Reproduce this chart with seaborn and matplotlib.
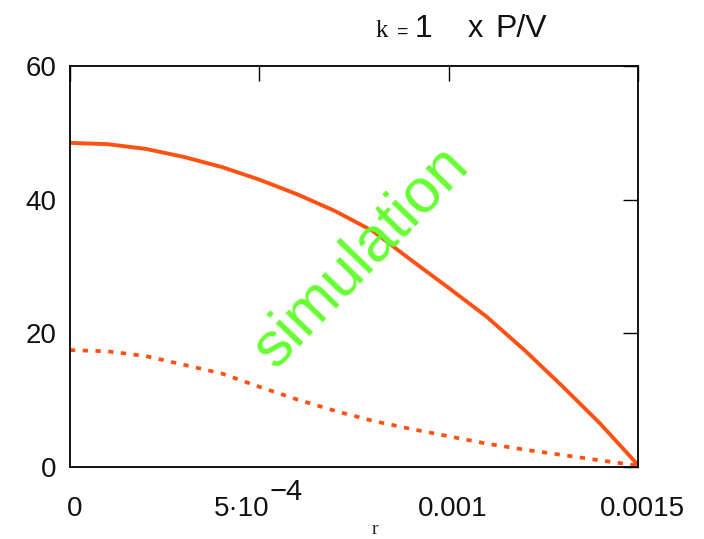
import matplotlib
matplotlib.use("Agg")
import matplotlib.pyplot as plt
import matplotlib.transforms as mtransforms
import seaborn as sns
import pandas as pd

# ---- data ----
r = [0.0, 1e-4, 2e-4, 3e-4, 4e-4, 5e-4, 6e-4, 7e-4, 8e-4, 9e-4,
     1.0e-3, 1.1e-3, 1.2e-3, 1.3e-3, 1.4e-3, 1.5e-3]
solid_vals = [48.5, 48.3, 47.6, 46.4, 44.9, 43.0, 40.8, 38.3, 35.3, 31.0,
              26.8, 22.5, 17.5, 12.1, 6.5, 0.3]
dotted_vals = [17.5, 17.3, 16.6, 15.3, 14.0, 12.0, 10.1, 8.4, 6.9, 5.7,
               4.6, 3.5, 2.6, 1.8, 1.0, 0.2]
x_ticks = [0.0, 5e-4, 1e-3, 1.5e-3]
x_ticklabels = ["0", "5\u00b710", "0.001", "0.0015"]
y_ticks = [0, 20, 40, 60]
y_ticklabels = ["0", "20", "40", "60"]

df_solid = pd.DataFrame({"r": r, "v": solid_vals})
df_dot = pd.DataFrame({"r": r, "v": dotted_vals})

sns.set_style("white")
plt.rcParams["font.family"] = ["Liberation Sans", "DejaVu Sans"]

W, H, DPI = 7.04, 5.39, 100
fig = plt.figure(figsize=(W, H), dpi=DPI)
ax = fig.add_axes([70 / 704, (539 - 467) / 539, 568 / 704, 401 / 539])

LINE_COLOR = "#ff5212"
sns.lineplot(data=df_solid, x="r", y="v", ax=ax, color=LINE_COLOR, lw=2.8,
             solid_capstyle="butt")
sns.lineplot(data=df_dot, x="r", y="v", ax=ax, color=LINE_COLOR, lw=2.7,
             dashes=False)
ax.lines[-1].set_linestyle((0, (1.4, 2.0)))
ax.lines[-1].set_dash_capstyle("butt")

ax.set_xlim(0, 0.0015)
ax.set_ylim(0, 60)
ax.set_xticks(x_ticks)
ax.set_xticklabels(x_ticklabels)
ax.set_yticks(y_ticks)
ax.set_yticklabels(y_ticklabels)

for s in ax.spines.values():
    s.set_visible(True)
    s.set_color("black")
    s.set_linewidth(1.3)

ax.tick_params(axis="both", direction="in", length=11, width=1.0, color="black",
               top=True, right=True, labelsize=20, labelcolor="#111111")
ax.tick_params(axis="x", pad=21)
ax.tick_params(axis="y", pad=10)

# x tick labels sit slightly right of their ticks; 5·10 leaves room for the exponent
for i, lbl in enumerate(ax.get_xticklabels()):
    dx = -0.18 if i == 1 else 0.045
    lbl.set_transform(lbl.get_transform() +
                      mtransforms.ScaledTranslation(dx, 0, fig.dpi_scale_trans))
ax.annotate("\u22124", xy=(5e-4, 0), xycoords=("data", "axes fraction"),
            xytext=(7, -18), textcoords="offset points", ha="left", va="center",
            fontsize=21, color="#111111")

ax.set_xlabel("r", family="Liberation Serif", fontsize=14, labelpad=-1, color="#222222")
ax.xaxis.label.set_x((375 - 70) / 568)
ax.set_ylabel("")

# title pieces
yb = 1 - 37 / 539
fig.text(376 / 704, yb, "k", family="Liberation Serif", fontsize=18, va="baseline", color="#111111")
fig.text(397 / 704, yb, "=", fontsize=14, va="baseline", color="#111111")
fig.text(415 / 704, yb, "1", fontsize=23, va="baseline", color="#111111")
fig.text(468 / 704, yb, "x", fontsize=22, va="baseline", color="#111111")
fig.text(495 / 704, yb, "P/V", fontsize=23, va="baseline", color="#111111")

# watermark
ax.text(7.69e-4, 31.4, "simulation", color="#66ff33", fontsize=45, rotation=46,
        rotation_mode="anchor", ha="center", va="center")

fig.savefig("out.png", dpi=DPI)
